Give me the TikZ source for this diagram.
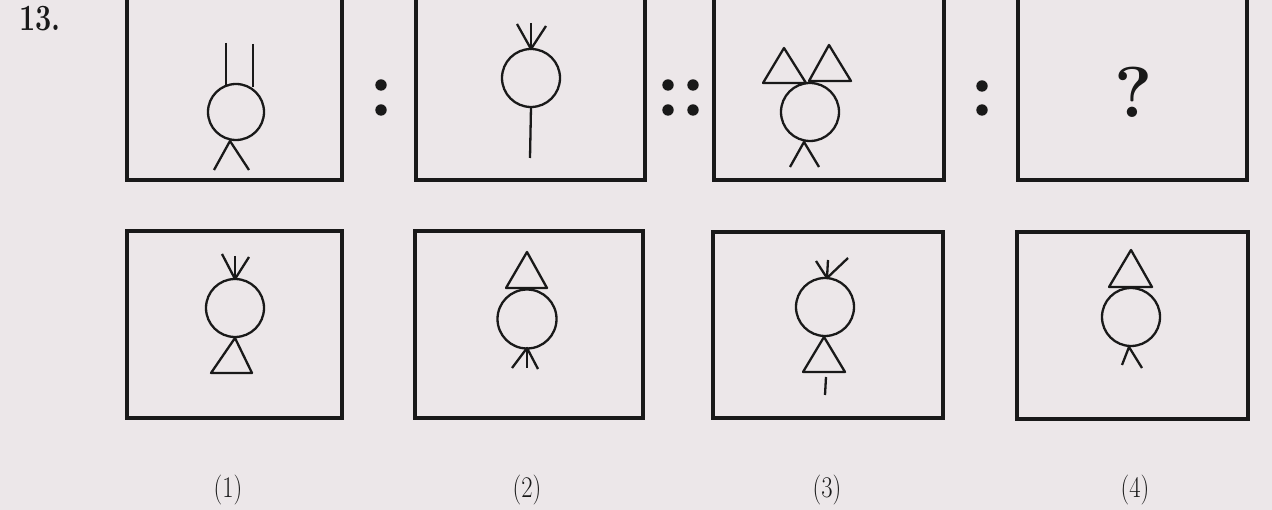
\documentclass[tikz,border=0pt]{standalone}
\usepackage{graphicx}
\definecolor{bgc}{RGB}{236,231,233}
\definecolor{ink}{RGB}{25,25,25}
\tikzset{
  framebox/.style={draw=ink,line width=3.3pt},
  fig/.style={draw=ink,line width=2.3pt,line join=round},
  sep/.style={fill=ink},
  lbl/.style={text=ink,inner sep=0pt,font=\fontsize{30}{30}\selectfont}
}
\begin{document}
\begin{tikzpicture}[x=1pt,y=-1pt]
\fill[bgc] (0,0) rectangle (1272,510);
\useasboundingbox (0,0) rectangle (1272,510);
% number
\node[inner sep=0pt,anchor=base west,text=ink] (num) at (19,31) {\scalebox{0.78}[1]{\fontsize{37}{37}\selectfont\bfseries 13.}};
% top frames
\draw[framebox] (127,-2) rectangle (342,180);
\draw[framebox] (416,-2) rectangle (645,180);
\draw[framebox] (714,-2) rectangle (944,180);
\draw[framebox] (1018,-2) rectangle (1247,180);
% bottom frames
\draw[framebox] (127,231) rectangle (342,418);
\draw[framebox] (415,231) rectangle (643,418);
\draw[framebox] (713,232) rectangle (943,418);
\draw[framebox] (1017,232) rectangle (1248,419);
% separators
\fill[sep] (381,85) circle[radius=5.7pt] (381,110) circle[radius=5.7pt];
\fill[sep] (668,85) circle[radius=5.7pt] (668,110) circle[radius=5.7pt];
\fill[sep] (693,85) circle[radius=5.7pt] (693,110) circle[radius=5.7pt];
\fill[sep] (982,86) circle[radius=5.7pt] (982,110) circle[radius=5.7pt];
% question mark
\node[inner sep=0pt,text=ink] (q) at (1134,92) {\fontsize{72}{72}\selectfont\bfseries ?};

% ---- top 1
\draw[fig] (236,112) circle[radius=28pt];
\draw[fig] (226,43) -- (226,86);
\draw[fig] (253,44) -- (253,87);
\draw[fig] (214,170) -- (230,141) -- (249,170);
% ---- top 2
\draw[fig] (531,78) circle[radius=29pt];
\draw[fig] (531,23) -- (531,49);
\draw[fig] (517,24) -- (531,49) -- (546,26);
\draw[fig] (531,107) -- (530,158);
% ---- top 3
\draw[fig] (810,112) circle[radius=29pt];
\draw[fig] (763,83) -- (784,48) -- (806,83) -- cycle;
\draw[fig] (809,81) -- (829,45) -- (851,81) -- cycle;
\draw[fig] (790,167) -- (804,142) -- (819,167);

% ---- bottom 1
\draw[fig] (235,308) circle[radius=29pt];
\draw[fig] (235,256) -- (235,279);
\draw[fig] (222,254) -- (235,279) -- (249,257);
\draw[fig] (235,338) -- (211,373) -- (252,373) -- cycle;
% ---- bottom 2
\draw[fig] (527,252) -- (506,288) -- (547,288) -- cycle;
\draw[fig] (527,319) circle[radius=29.5pt];
\draw[fig] (527,348) -- (527,368);
\draw[fig] (512,368) -- (527,348) -- (538,369);
% ---- bottom 3
\draw[fig] (825,307) circle[radius=29pt];
\draw[fig] (828,260) -- (827,278);
\draw[fig] (816,261) -- (827,278) -- (848,258);
\draw[fig] (824,337) -- (803,372) -- (845,372) -- cycle;
\draw[fig] (826,377) -- (825,395);
% ---- bottom 4
\draw[fig] (1131,250) -- (1109,287) -- (1152,287) -- cycle;
\draw[fig] (1131,317) circle[radius=29pt];
\draw[fig] (1122,365) -- (1129,347) -- (1142,368);

% labels
\node[lbl] (l1) at (228,490) {\scalebox{0.82}[1]{(1)}};
\node[lbl] (l2) at (527,490) {\scalebox{0.82}[1]{(2)}};
\node[lbl] (l3) at (827,490) {\scalebox{0.82}[1]{(3)}};
\node[lbl] (l4) at (1135,490) {\scalebox{0.82}[1]{(4)}};
\end{tikzpicture}
\end{document}
